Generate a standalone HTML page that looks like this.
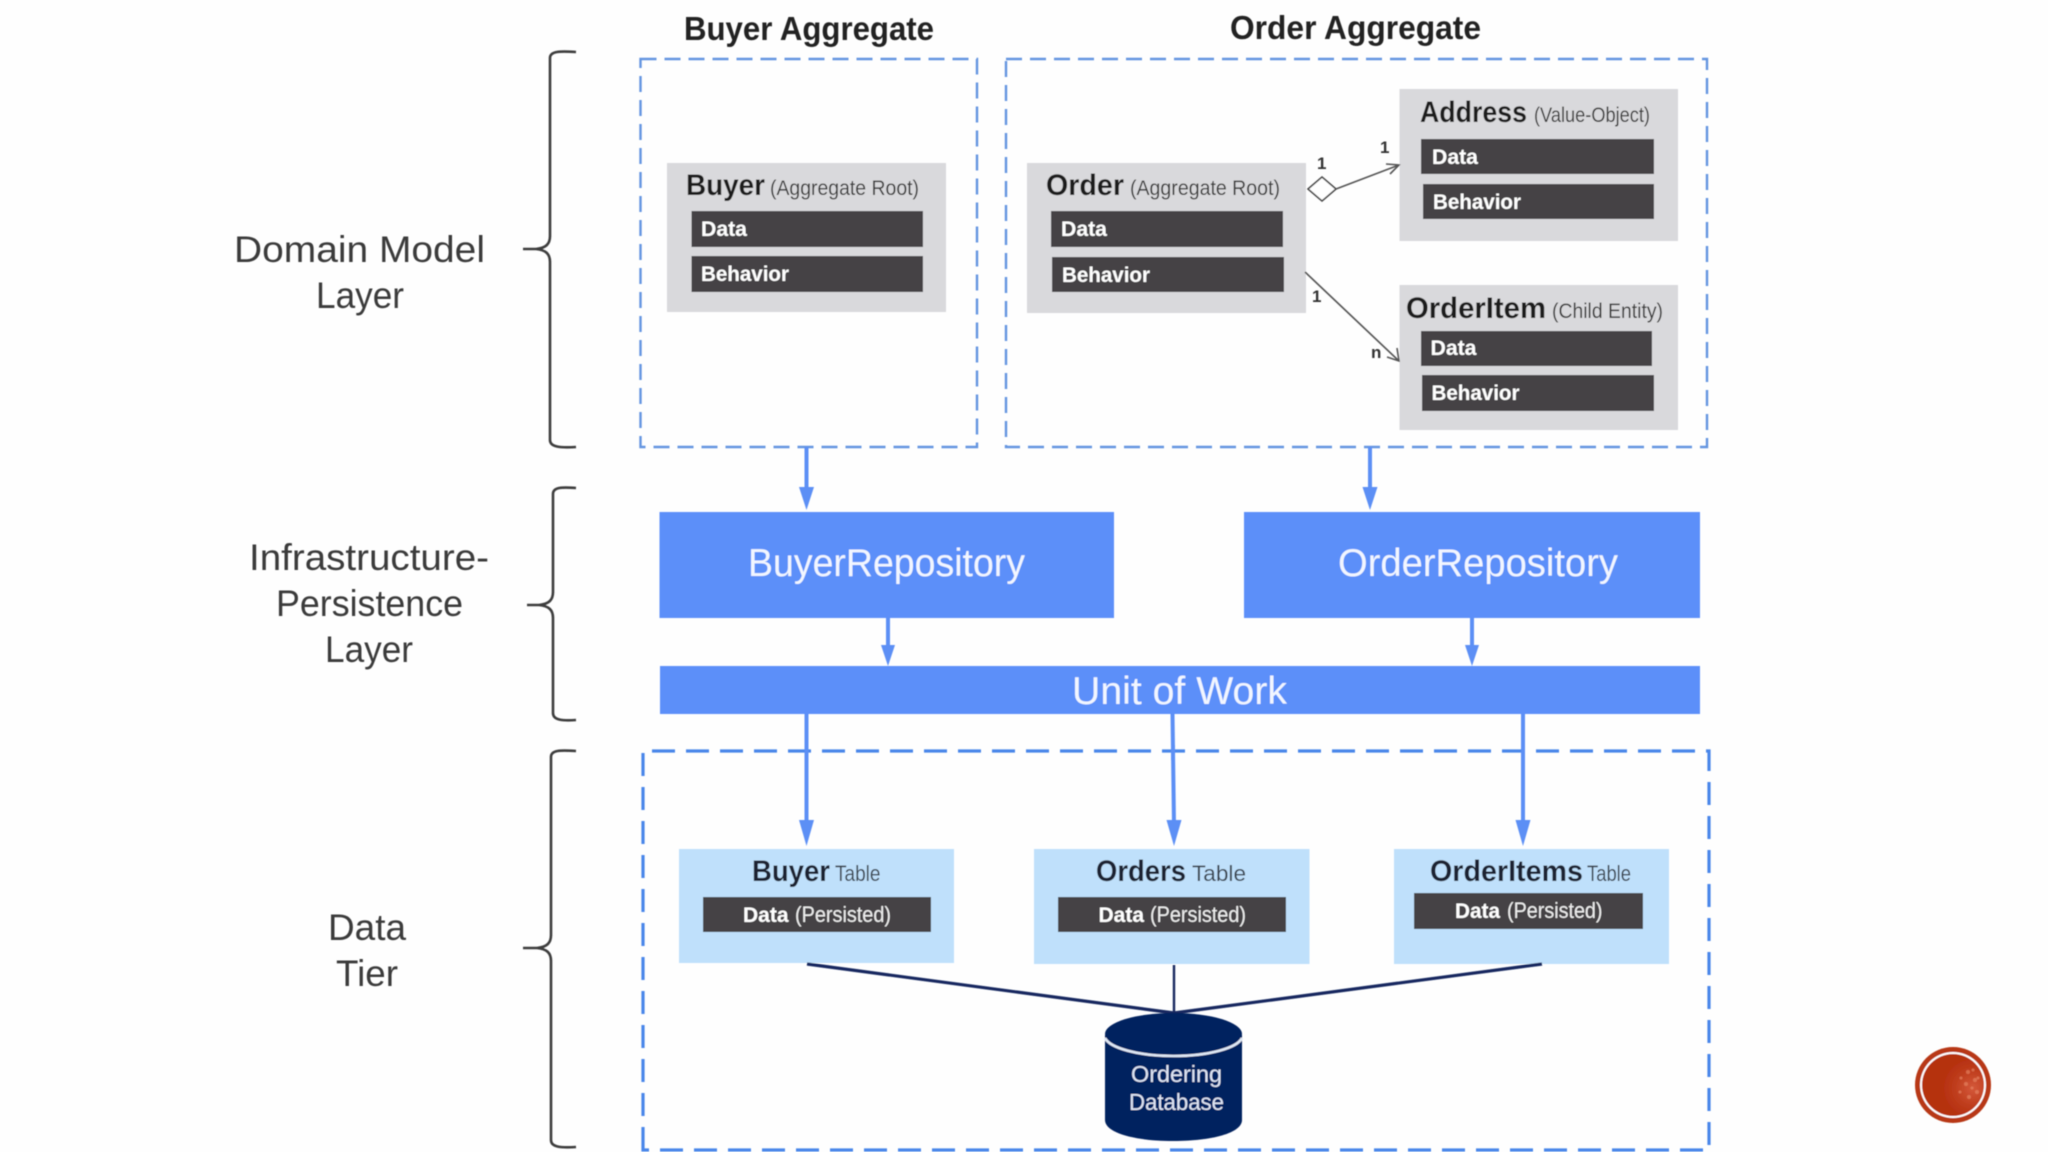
<!DOCTYPE html>
<html lang="en">
<head>
<meta charset="utf-8">
<title>Ordering microservice layers</title>
<style>
html,body{margin:0;padding:0;width:2048px;height:1152px;overflow:hidden;background:#fefefe}
svg{display:block}
text{font-family:"Liberation Sans",sans-serif}
.ttl{font-weight:700;font-size:33px;fill:#222}
.lay{font-size:37px;fill:#3a3a3a}
.h{font-weight:700;font-size:30px;fill:#1f1f1f}
.s{font-size:21px;fill:#3a3a3a}
.b{font-weight:700;font-size:21px;fill:#fff}
.r{font-size:39px;fill:#f2f6ff}
.p{font-size:22px;fill:#eee}
.m{font-weight:700;font-size:17px;fill:#333}
.db{font-size:23px;fill:#dfe6f5}
.th{font-weight:700;font-size:30px;fill:#1c2430}
.ts{font-size:22px;fill:#3a4450}
</style>
</head>
<body>
<svg width="2048" height="1152" viewBox="0 0 2048 1152" xmlns="http://www.w3.org/2000/svg">
<defs>
<radialGradient id="seal" cx="0.82" cy="0.55" r="0.5">
<stop offset="0" stop-color="#d4583a"/><stop offset="0.6" stop-color="#be3c1c"/><stop offset="1" stop-color="#b5300f"/>
</radialGradient>
<filter id="soft" x="-2%" y="-2%" width="104%" height="104%"><feGaussianBlur stdDeviation="0.6"/></filter>
</defs>
<rect width="2048" height="1152" fill="#fefefe"/>
<g filter="url(#soft)">

<!-- Braces -->
<g fill="none" stroke="#3c3c3c" stroke-width="2.6">
<path d="M576 52 C560 51 550 51 550 58 L550 236 C550 244 546 248 536 249 L523 249 L536 249 C546 250 550 254 550 262 L550 440 C550 447 560 448 576 447"/>
<path d="M576 488 C562 487 553 487 553 494 L553 592 C553 600 549 604 539 605 L527 605 L539 605 C549 606 553 610 553 618 L553 713 C553 720 562 721 576 720"/>
<path d="M576 751 C560 750 551 750 551 757 L551 935 C551 943 547 947 537 948 L523 948 L537 948 C547 949 551 953 551 961 L551 1140 C551 1147 560 1148 576 1147"/>
</g>

<!-- Layer labels -->
<text class="lay" x="234" y="262" textLength="251" lengthAdjust="spacingAndGlyphs">Domain Model</text>
<text class="lay" x="316" y="308" textLength="88" lengthAdjust="spacingAndGlyphs">Layer</text>
<text class="lay" x="249" y="570" textLength="240" lengthAdjust="spacingAndGlyphs">Infrastructure-</text>
<text class="lay" x="276" y="616" textLength="187" lengthAdjust="spacingAndGlyphs">Persistence</text>
<text class="lay" x="325" y="662" textLength="88" lengthAdjust="spacingAndGlyphs">Layer</text>
<text class="lay" x="328" y="940" textLength="78" lengthAdjust="spacingAndGlyphs">Data</text>
<text class="lay" x="336" y="986" textLength="62" lengthAdjust="spacingAndGlyphs">Tier</text>

<!-- Titles -->
<text class="ttl" x="684" y="40" textLength="250" lengthAdjust="spacingAndGlyphs">Buyer Aggregate</text>
<text class="ttl" x="1230" y="39" textLength="251" lengthAdjust="spacingAndGlyphs">Order Aggregate</text>

<!-- Dashed containers -->
<rect x="640.5" y="59" width="336.5" height="388" fill="none" stroke="#6394e0" stroke-width="2.4" stroke-dasharray="16 8"/>
<rect x="1006" y="59" width="701" height="388" fill="none" stroke="#6394e0" stroke-width="2.4" stroke-dasharray="16 8"/>

<!-- Buyer entity -->
<rect x="667" y="163" width="279" height="149" fill="#d9d9dc"/>
<text class="h" x="686" y="195" textLength="79" lengthAdjust="spacingAndGlyphs">Buyer</text>
<text class="s" x="770" y="195" textLength="149" lengthAdjust="spacingAndGlyphs">(Aggregate Root)</text>
<rect x="691.5" y="211" width="231.5" height="36" fill="#444345"/>
<text class="b" x="701" y="236" textLength="46" lengthAdjust="spacingAndGlyphs">Data</text>
<rect x="691.5" y="256" width="231.5" height="36" fill="#444345"/>
<text class="b" x="701" y="281" textLength="88" lengthAdjust="spacingAndGlyphs">Behavior</text>

<!-- Order entity -->
<rect x="1027" y="163" width="279" height="150" fill="#d9d9dc"/>
<text class="h" x="1046" y="195" textLength="78" lengthAdjust="spacingAndGlyphs">Order</text>
<text class="s" x="1130" y="195" textLength="150" lengthAdjust="spacingAndGlyphs">(Aggregate Root)</text>
<rect x="1051" y="211" width="232" height="36" fill="#444345"/>
<text class="b" x="1061" y="236" textLength="46" lengthAdjust="spacingAndGlyphs">Data</text>
<rect x="1052" y="257" width="232" height="35" fill="#444345"/>
<text class="b" x="1062" y="282" textLength="88" lengthAdjust="spacingAndGlyphs">Behavior</text>

<!-- Address -->
<rect x="1399.5" y="89" width="278.5" height="152" fill="#d9d9dc"/>
<text class="h" x="1420" y="122" textLength="107" lengthAdjust="spacingAndGlyphs">Address</text>
<text class="s" x="1534" y="122" textLength="116" lengthAdjust="spacingAndGlyphs">(Value-Object)</text>
<rect x="1421" y="139" width="233" height="35" fill="#444345"/>
<text class="b" x="1432" y="164" textLength="46" lengthAdjust="spacingAndGlyphs">Data</text>
<rect x="1423" y="184" width="231" height="35" fill="#444345"/>
<text class="b" x="1433" y="209" textLength="88" lengthAdjust="spacingAndGlyphs">Behavior</text>

<!-- OrderItem -->
<rect x="1399.5" y="285" width="278.5" height="145" fill="#d9d9dc"/>
<text class="h" x="1406" y="318" textLength="140" lengthAdjust="spacingAndGlyphs">OrderItem</text>
<text class="s" x="1552" y="318" textLength="111" lengthAdjust="spacingAndGlyphs">(Child Entity)</text>
<rect x="1421" y="331" width="231" height="35" fill="#444345"/>
<text class="b" x="1430.5" y="355" textLength="46" lengthAdjust="spacingAndGlyphs">Data</text>
<rect x="1422" y="375" width="232" height="36" fill="#444345"/>
<text class="b" x="1431.5" y="400" textLength="88" lengthAdjust="spacingAndGlyphs">Behavior</text>

<!-- UML relations -->
<path d="M1308 189 L1322 177 L1336 189 L1322 201 Z" fill="#fff" stroke="#444" stroke-width="1.6"/>
<path d="M1336 189 L1399 165 M1386 164 L1399 165 L1390 174" fill="none" stroke="#555" stroke-width="1.6"/>
<path d="M1305 272 L1399 361 M1397 348 L1399 361 L1387 357" fill="none" stroke="#555" stroke-width="1.6"/>
<text class="m" x="1317" y="169">1</text>
<text class="m" x="1380" y="153">1</text>
<text class="m" x="1312" y="302">1</text>
<text class="m" x="1371" y="358">n</text>

<!-- Blue arrows -->
<g stroke="#5b8ff5" stroke-width="4" fill="none">
<path d="M806.5 447 V492"/><path d="M1370 447 V492"/>
<path d="M888 618 V650"/><path d="M1472 618 V650"/>
<path d="M806.5 714 V825"/><path d="M1172.5 714 L1174 825"/><path d="M1523 714 V825"/>
</g>
<g fill="#5b8ff5">
<path d="M799 487 H814 L806.5 510 Z"/>
<path d="M1362.5 487 H1377.5 L1370 510 Z"/>
<path d="M881 645 H895 L888 666 Z"/>
<path d="M1465 645 H1479 L1472 666 Z"/>
<path d="M799 820 H814 L806.5 846 Z"/>
<path d="M1166.5 820 H1181.5 L1174 846 Z"/>
<path d="M1515.5 820 H1530.5 L1523 846 Z"/>
</g>

<!-- Repositories -->
<rect x="659.5" y="512" width="454.5" height="106" fill="#5b8ff9"/>
<text class="r" x="748" y="576" textLength="277" lengthAdjust="spacingAndGlyphs">BuyerRepository</text>
<rect x="1244" y="512" width="456" height="106" fill="#5b8ff9"/>
<text class="r" x="1338" y="576" textLength="280" lengthAdjust="spacingAndGlyphs">OrderRepository</text>
<rect x="660" y="666" width="1040" height="48" fill="#5b8ff9"/>
<text class="r" x="1072" y="704" textLength="215" lengthAdjust="spacingAndGlyphs">Unit of Work</text>

<!-- Data tier container -->
<path d="M643 1150 V751 H1709 V1150 Z" fill="none" stroke="#4a86ea" stroke-width="3.2" stroke-dasharray="23 11"/>
<g stroke="#5b8ff5" stroke-width="4" fill="none">
<path d="M806.5 745 V760"/><path d="M1173 745 V760"/><path d="M1523 745 V760"/>
</g>

<!-- Tables -->
<rect x="679" y="849" width="275" height="114" fill="#bfe0fb"/>
<text class="th" x="752" y="881" textLength="78" lengthAdjust="spacingAndGlyphs">Buyer</text>
<text class="ts" x="835" y="881" textLength="45.500" lengthAdjust="spacingAndGlyphs">Table</text>
<rect x="703" y="897" width="228" height="35" fill="#444345"/>
<text class="b" x="743" y="922" textLength="45.500" lengthAdjust="spacingAndGlyphs">Data</text>
<text class="p" x="795" y="922" textLength="96" lengthAdjust="spacingAndGlyphs">(Persisted)</text>

<rect x="1034" y="849" width="275.500" height="115" fill="#bfe0fb"/>
<text class="th" x="1096" y="881" textLength="90" lengthAdjust="spacingAndGlyphs">Orders</text>
<text class="ts" x="1192" y="881" textLength="54" lengthAdjust="spacingAndGlyphs">Table</text>
<rect x="1058" y="897" width="228" height="35" fill="#444345"/>
<text class="b" x="1098.500" y="922" textLength="45.500" lengthAdjust="spacingAndGlyphs">Data</text>
<text class="p" x="1150" y="922" textLength="96" lengthAdjust="spacingAndGlyphs">(Persisted)</text>

<rect x="1394" y="849" width="275" height="115" fill="#bfe0fb"/>
<text class="th" x="1430" y="881" textLength="153" lengthAdjust="spacingAndGlyphs">OrderItems</text>
<text class="ts" x="1587" y="881" textLength="44" lengthAdjust="spacingAndGlyphs">Table</text>
<rect x="1414" y="893" width="229" height="36" fill="#444345"/>
<text class="b" x="1455" y="918" textLength="45" lengthAdjust="spacingAndGlyphs">Data</text>
<text class="p" x="1507" y="918" textLength="95.500" lengthAdjust="spacingAndGlyphs">(Persisted)</text>

<!-- DB connectors -->
<g stroke="#14285f" fill="none">
<path d="M807 964 L1174 1013" stroke-width="3.2"/>
<path d="M1174 965 V1013" stroke-width="2.4"/>
<path d="M1542 964 L1174 1013" stroke-width="3.2"/>
</g>

<!-- Cylinder -->
<path d="M1105 1035 V1120 C1105 1133 1135 1141 1173.500 1141 C1212 1141 1242 1133 1242 1120 V1035 Z" fill="#06215f"/>
<ellipse cx="1173.500" cy="1034" rx="68.500" ry="21" fill="#06215f"/>
<path d="M1105 1038 C1110 1048 1138 1056 1173.500 1056 C1209 1056 1237 1048 1242 1038" fill="none" stroke="#dfe8f5" stroke-width="2.600"/>
<text class="db" x="1131" y="1082" textLength="91" lengthAdjust="spacingAndGlyphs">Ordering</text>
<text class="db" x="1129" y="1110" textLength="95" lengthAdjust="spacingAndGlyphs">Database</text>

<!-- Corner seal -->
<circle cx="1953" cy="1085" r="38" fill="#b83818"/>
<circle cx="1953" cy="1085" r="33" fill="#fff"/>
<circle cx="1953" cy="1085" r="31" fill="url(#seal)"/>
<g fill="#e98a68" opacity="0.6">
<circle cx="1968" cy="1072" r="2"/><circle cx="1975" cy="1080" r="2"/><circle cx="1966" cy="1084" r="2"/>
<circle cx="1977" cy="1092" r="2"/><circle cx="1969" cy="1097" r="2"/><circle cx="1960" cy="1092" r="1.500"/>
<circle cx="1973" cy="1070" r="1.500"/><circle cx="1978" cy="1078" r="1.500"/><circle cx="1961" cy="1078" r="1.500"/><circle cx="1972" cy="1088" r="1.500"/>
</g>
</g>
</svg>
</body>
</html>
